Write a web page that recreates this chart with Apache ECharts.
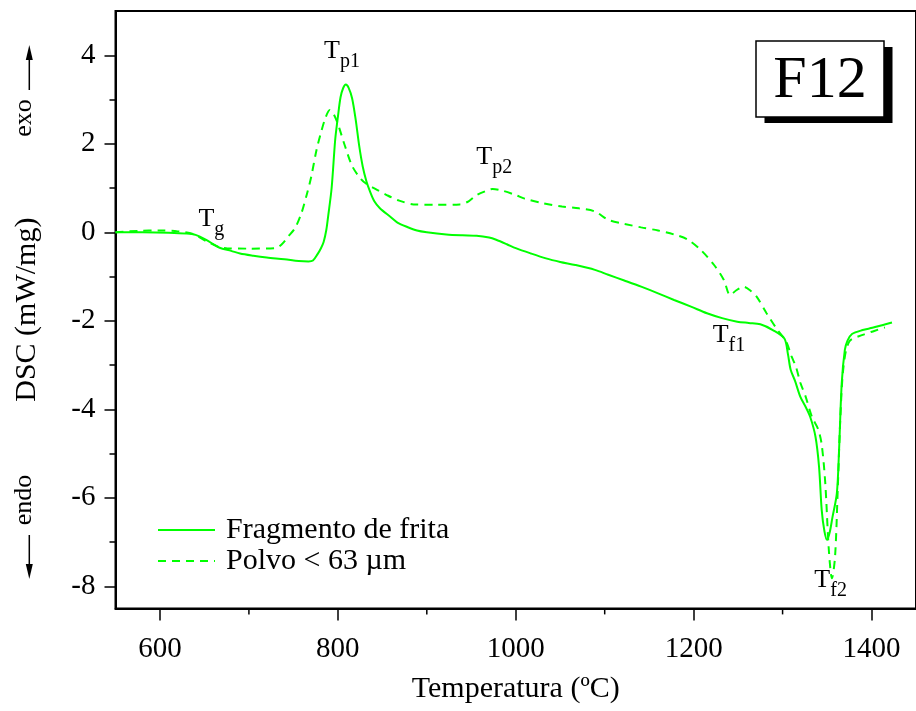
<!DOCTYPE html>
<html>
<head>
<meta charset="utf-8">
<title>DSC F12</title>
<script src="https://cdn.jsdelivr.net/npm/echarts@6/dist/echarts.min.js"></script>
<style>
  html, body { margin: 0; padding: 0; background: #ffffff; }
  #chart { width: 916px; height: 711px; }
</style>
</head>
<body>
<div id="chart"></div>
<script>
// DSC curves of frit F12: bulk fragment vs. powder
const seriesNames = ['Fragmento de frita', 'Polvo < 63 µm'];

const fragmentoTemp = [
  550, 580, 610, 630, 640, 652, 660, 667, 680, 690, 705, 720, 740, 756, 767, 772, 777, 781, 784, 787,
  789, 793, 797, 800, 803, 806, 809, 812, 816, 820, 824, 828, 832, 836, 841, 847, 859, 867, 878, 889,
  900, 922, 940, 956, 970, 978, 990, 1000, 1017, 1034, 1050, 1067, 1089, 1104, 1122, 1141, 1160, 1178,
  1197, 1215, 1232, 1249, 1262, 1275, 1289, 1302, 1306, 1309, 1314, 1320, 1326, 1331, 1337, 1341, 1344,
  1347, 1350, 1353, 1356, 1361, 1363.5, 1366.5, 1370, 1373, 1378, 1390, 1401, 1412, 1423
];
const fragmentoDSC = [
  0.00, 0.00, -0.01, -0.03, -0.06, -0.17, -0.27, -0.35, -0.42, -0.48, -0.53, -0.57, -0.61, -0.65, -0.66, -0.64, -0.50, -0.36, -0.22, 0.05,
  0.35, 1.00, 2.09, 2.60, 3.05, 3.26, 3.34, 3.27, 3.03, 2.55, 1.95, 1.48, 1.16, 0.93, 0.70, 0.55, 0.35, 0.22, 0.12, 0.04,
  0.00, -0.05, -0.07, -0.08, -0.12, -0.17, -0.27, -0.36, -0.48, -0.59, -0.67, -0.74, -0.85, -0.96, -1.09, -1.23, -1.38, -1.53,
  -1.68, -1.83, -1.94, -2.02, -2.05, -2.08, -2.21, -2.40, -2.75, -3.10, -3.36, -3.72, -3.95, -4.17, -4.62, -5.30, -6.28,
  -6.75, -6.95, -6.78, -6.45, -5.90, -4.92, -3.41, -2.66, -2.45, -2.30, -2.21, -2.16, -2.10, -2.04
];

const polvoTemp = [
  550, 575, 600, 620, 637, 652, 667, 675, 700, 730, 737, 744, 752, 759, 765, 770, 776, 781, 786, 791,
  795, 800, 804, 808, 816, 826, 833, 844, 855, 867, 885, 910, 937, 947, 956, 966, 974, 985, 1000, 1010,
  1030, 1052, 1071, 1089, 1104, 1122, 1141, 1160, 1178, 1193, 1208, 1223, 1234, 1241, 1248, 1256, 1264,
  1271, 1282, 1293, 1304, 1310, 1315, 1320, 1326, 1333, 1340, 1344, 1348, 1352, 1355.5, 1359, 1362,
  1365, 1368.5, 1375, 1390, 1403, 1415
];
const polvoDSC = [
  0.00, 0.03, 0.04, 0.02, -0.04, -0.20, -0.34, -0.36, -0.37, -0.36, -0.27, -0.10, 0.10, 0.43, 0.85, 1.25, 1.86, 2.25, 2.58, 2.76,
  2.68, 2.45, 2.20, 1.95, 1.50, 1.20, 1.08, 0.96, 0.84, 0.73, 0.63, 0.62, 0.63, 0.70, 0.84, 0.93, 0.98, 0.94, 0.84, 0.76,
  0.66, 0.58, 0.54, 0.47, 0.28, 0.19, 0.11, 0.04, -0.05, -0.16, -0.40, -0.74, -1.08, -1.42, -1.31, -1.23, -1.32,
  -1.46, -1.83, -2.17, -2.47, -2.80, -3.04, -3.40, -3.72, -4.17, -4.45, -4.80, -5.67, -7.18, -7.82, -7.33, -5.82,
  -4.17, -3.04, -2.47, -2.32, -2.23, -2.15
];

const xTickMajor = [600, 800, 1000, 1200, 1400];
const xTickMinor = [700, 900, 1100, 1300];
const yTickMajor = [-8, -6, -4, -2, 0, 2, 4];
const yTickMinor = [-7, -5, -3, -1, 1, 3];

const xName = 'Temperatura (ºC)';
const yName = 'DSC (mW/mg)';
const sampleTag = 'F12';

// ---------------------------------------------------------------
const SERIF = '"Liberation Serif", "Times New Roman", serif';
const GREEN = '#00ff00';
const X_RANGE = [550, 1450];
const Y_RANGE = [-8.5, 5];

const zip = (xs, ys) => xs.map((x, i) => [x, ys[i]]);
const plainNumber = (v) => String(v);

function featureLabel(main, sub, coord) {
  return {
    coord: coord,
    label: {
      formatter: '{t|' + main + '}{s|' + sub + '}'
    }
  };
}

const richLabel = {
  show: true,
  position: 'inside',
  color: '#000',
  rich: {
    t: { fontFamily: SERIF, fontSize: 26, lineHeight: 26, color: '#000' },
    s: { fontFamily: SERIF, fontSize: 20, lineHeight: 20, color: '#000', padding: [21, 0, 0, 0] }
  }
};

const axisText = { fontFamily: SERIF, fontSize: 29, color: '#000', formatter: plainNumber };
const tickLine = { color: '#000', width: 1.5 };

const option = {
  animation: false,
  backgroundColor: '#ffffff',
  grid: {
    left: 115.5,
    right: -8.3,
    top: 11,
    bottom: 102.6,
    show: true,
    borderColor: '#000',
    borderWidth: 2,
    backgroundColor: 'transparent',
    containLabel: false
  },
  legend: {
    orient: 'vertical',
    left: 157,
    top: 515,
    padding: 0,
    itemGap: 1,
    itemWidth: 57,
    itemHeight: 14,
    selectedMode: false,
    data: seriesNames,
    itemStyle: { opacity: 0, borderWidth: 0 },
    textStyle: {
      fontFamily: SERIF,
      fontSize: 30,
      color: '#000',
      padding: [0, 0, 0, 6]
    }
  },
  xAxis: {
    type: 'value',
    position: 'bottom',
    min: X_RANGE[0],
    max: X_RANGE[1],
    name: xName,
    nameLocation: 'middle',
    nameGap: 66,
    nameTextStyle: { fontFamily: SERIF, fontSize: 30, color: '#000' },
    axisLine: { show: true, onZero: false, lineStyle: { color: '#000', width: 2 } },
    axisTick: { show: true, customValues: xTickMajor, length: 12, lineStyle: tickLine },
    axisLabel: Object.assign({ customValues: xTickMajor, margin: 26 }, axisText),
    splitLine: { show: false }
  },
  yAxis: [
    {
      type: 'value',
      position: 'left',
      min: Y_RANGE[0],
      max: Y_RANGE[1],
      name: yName,
      nameLocation: 'middle',
      nameGap: 73,
      nameTextStyle: { fontFamily: SERIF, fontSize: 30, color: '#000' },
      axisLine: { show: true, onZero: false, lineStyle: { color: '#000', width: 2 } },
      axisTick: { show: true, customValues: yTickMajor, length: 11, lineStyle: tickLine },
      axisLabel: Object.assign({ customValues: yTickMajor, margin: 20 }, axisText),
      splitLine: { show: false }
    },
    {
      type: 'value',
      position: 'left',
      min: Y_RANGE[0],
      max: Y_RANGE[1],
      axisLine: { show: false, onZero: false },
      axisTick: { show: true, customValues: yTickMinor, length: 6, lineStyle: tickLine },
      axisLabel: { show: false },
      splitLine: { show: false }
    }
  ],
  series: [
    {
      name: seriesNames[0],
      type: 'line',
      xAxisIndex: 0,
      yAxisIndex: 0,
      data: zip(fragmentoTemp, fragmentoDSC),
      showSymbol: false,
      symbol: 'none',
      smooth: 0.3,
      lineStyle: { color: GREEN, width: 2, type: 'solid' },
      itemStyle: { color: GREEN },
      markPoint: {
        symbol: 'circle',
        symbolSize: 1,
        itemStyle: { color: 'transparent' },
        label: richLabel,
        data: [
          featureLabel('T', 'g', [657.8, 0.29]),
          featureLabel('T', 'p1', [804.6, 4.09]),
          featureLabel('T', 'p2', [975.9, 1.70]),
          featureLabel('T', 'f1', [1239.7, -2.33]),
          featureLabel('T', 'f2', [1354.0, -7.86])
        ]
      }
    },
    {
      name: seriesNames[1],
      type: 'line',
      xAxisIndex: 0,
      yAxisIndex: 0,
      data: zip(polvoTemp, polvoDSC),
      showSymbol: false,
      symbol: 'none',
      smooth: 0.3,
      lineStyle: { color: GREEN, width: 2, type: [8, 6] },
      itemStyle: { color: GREEN }
    },
    {
      // short intermediate ticks hanging below the temperature axis
      name: 'minorTicks',
      type: 'custom',
      xAxisIndex: 0,
      yAxisIndex: 0,
      silent: true,
      clip: false,
      z: 5,
      data: xTickMinor.map((v) => [v, Y_RANGE[0]]),
      encode: { x: 0, y: 1 },
      renderItem: function (params, api) {
        const p = api.coord([api.value(0), api.value(1)]);
        return {
          type: 'line',
          shape: { x1: p[0], y1: p[1], x2: p[0], y2: p[1] + 6 },
          style: { stroke: '#000', lineWidth: 1.5 }
        };
      }
    }
  ],
  graphic: [
    // exo / endo direction markers beside the DSC axis
    {
      type: 'text',
      x: 24.5, y: 118,
      rotation: Math.PI / 2,
      style: { text: 'exo', font: '26px ' + SERIF, fill: '#000', align: 'center', verticalAlign: 'middle' }
    },
    {
      type: 'line',
      shape: { x1: 29.3, y1: 90, x2: 29.3, y2: 58 },
      style: { stroke: '#000', lineWidth: 1.5 }
    },
    {
      type: 'polygon',
      shape: { points: [[29.3, 45], [25.8, 60], [32.8, 60]] },
      style: { fill: '#000' }
    },
    {
      type: 'text',
      x: 24.5, y: 500,
      rotation: Math.PI / 2,
      style: { text: 'endo', font: '26px ' + SERIF, fill: '#000', align: 'center', verticalAlign: 'middle' }
    },
    {
      type: 'line',
      shape: { x1: 29.3, y1: 535, x2: 29.3, y2: 566 },
      style: { stroke: '#000', lineWidth: 1.5 }
    },
    {
      type: 'polygon',
      shape: { points: [[29.3, 579], [25.8, 564], [32.8, 564]] },
      style: { fill: '#000' }
    },
    // sample tag with drop shadow
    {
      type: 'rect',
      shape: { x: 764.5, y: 47, width: 128, height: 76 },
      style: { fill: '#000' }
    },
    {
      type: 'rect',
      shape: { x: 756, y: 41, width: 128, height: 76 },
      style: { fill: '#fff', stroke: '#000', lineWidth: 1.5 }
    },
    {
      type: 'text',
      x: 820, y: 81,
      style: { text: sampleTag, font: '60px ' + SERIF, fill: '#000', align: 'center', verticalAlign: 'middle' }
    }
  ]
};

const chart = echarts.init(document.getElementById('chart'), null, { renderer: 'canvas' });
chart.setOption(option);
</script>
</body>
</html>
